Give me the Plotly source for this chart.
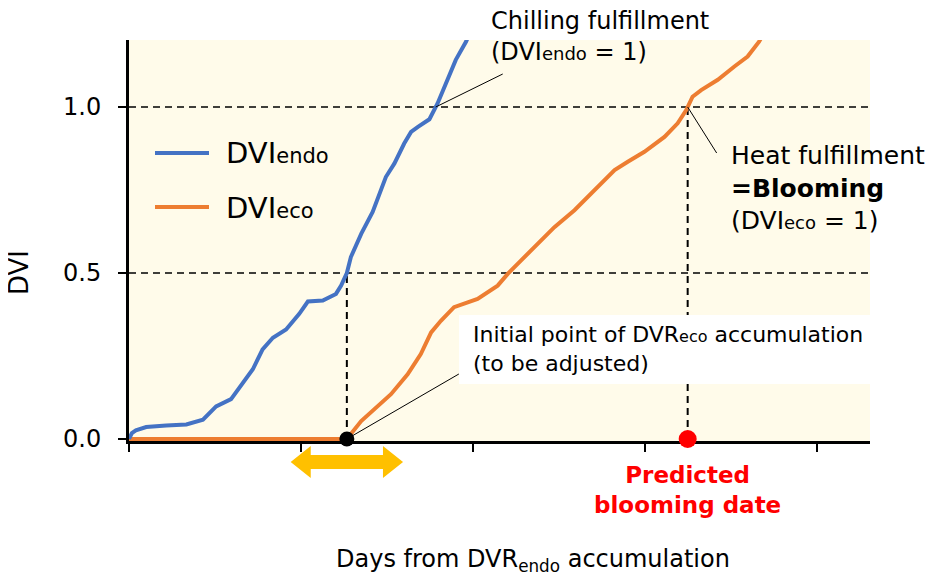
import numpy as np
import plotly.graph_objects as go


# =====================================================
# DATA
# =====================================================

# DVI_endo : chilling accumulation
days_endo = [0, 0.5, 1.2, 3.0, 6.5, 10.0, 12.9, 15.2, 17.8, 19.5, 21.6, 23.3,
             25.1, 27.4, 29.7, 31.2, 33.8, 36.1, 37.0, 38.0, 38.7, 40.5, 42.5,
             44.8, 46.3, 48.0, 49.2, 50.4, 52.4, 53.8, 55.3, 57.0, 58.8, 59.7]
dvi_endo = [0.0, 0.018, 0.026, 0.036, 0.041, 0.044, 0.058, 0.098, 0.120, 0.160,
            0.210, 0.270, 0.305, 0.330, 0.377, 0.414, 0.417, 0.437, 0.462, 0.500,
            0.548, 0.618, 0.684, 0.789, 0.830, 0.890, 0.925, 0.940, 0.963, 1.010,
            1.072, 1.142, 1.197, 1.233]

# DVI_eco : heat accumulation (starts when DVI_endo reaches 0.5)
days_eco = [0, 38.0, 40.5, 43.4, 45.7, 48.6, 50.9, 52.7, 54.4, 56.7, 60.8, 64.3,
            66.1, 68.4, 70.7, 74.2, 77.7, 81.2, 84.7, 87.0, 89.9, 93.4, 95.7,
            97.2, 98.3, 99.8, 102.7, 105.6, 107.9, 109.9, 111.1]
dvi_eco = [0.0, 0.0, 0.054, 0.100, 0.135, 0.195, 0.256, 0.321, 0.356, 0.397,
           0.422, 0.462, 0.498, 0.538, 0.578, 0.638, 0.689, 0.749, 0.810, 0.835,
           0.865, 0.910, 0.951, 0.991, 1.031, 1.051, 1.082, 1.122, 1.152, 1.197,
           1.233]

eco_start_day = 38.0
threshold_levels = [0.5, 1.0]

x_tick_days = [0, 30, 60, 90, 120]
y_tick_vals = [0.0, 0.5, 1.0]
y_tick_text = ["0.0", "0.5", "1.0"]

chill_day = float(np.interp(1.0, dvi_endo, days_endo))
bloom_day = float(np.interp(1.0, dvi_eco[1:], days_eco[1:]))


# =====================================================
# STYLE
# =====================================================

BLUE = "#4472C4"
ORANGE = "#ED7D31"
GOLD = "#FFC000"
RED = "#FF0000"
CREAM = "#FFFBEA"
FONT = "DejaVu Sans"
DASH = "7px,5px"

# page body adds an 8px margin, so the figure is shrunk by that much
OFF = 8
W, H = 933 - OFF, 579 - OFF

# plot area in picture pixels
L, R, T, B = 129, 870, 40, 441
PX_PER_DAY = 5.733
PX_PER_DVI = 332


def px_x(px):
    return (px - L) / (R - L)


def px_y(py):
    return (B - py) / (B - T)


def small(text, size):
    return f'<span style="font-size:{size}px">{text}</span>'


# =====================================================
# FIGURE
# =====================================================

fig = go.Figure()

# guide lines down to the axis
fig.add_trace(go.Scatter(
    x=[eco_start_day, eco_start_day], y=[0, 0.5],
    mode="lines", line=dict(color="black", width=2, dash=DASH),
    hoverinfo="skip"
))
fig.add_trace(go.Scatter(
    x=[bloom_day, bloom_day], y=[0, 1.0],
    mode="lines", line=dict(color="black", width=2, dash=DASH),
    hoverinfo="skip"
))

fig.add_trace(go.Scatter(
    x=days_eco, y=dvi_eco, mode="lines", name="DVIeco",
    line=dict(color=ORANGE, width=4)
))
fig.add_trace(go.Scatter(
    x=days_endo, y=dvi_endo, mode="lines", name="DVIendo",
    line=dict(color=BLUE, width=4)
))

# start point and blooming point
fig.add_trace(go.Scatter(
    x=[eco_start_day], y=[0], mode="markers",
    marker=dict(color="black", size=15), cliponaxis=False
))
fig.add_trace(go.Scatter(
    x=[bloom_day], y=[0], mode="markers",
    marker=dict(color=RED, size=18), cliponaxis=False
))

shapes = []

for level in threshold_levels:
    shapes.append(dict(
        type="line", xref="paper", yref="y", x0=0, x1=1, y0=level, y1=level,
        line=dict(color="black", width=1.5, dash=DASH), layer="below"
    ))

# white box behind the "initial point" note
shapes.append(dict(
    type="rect", xref="paper", yref="paper",
    x0=px_x(459), x1=1.0, y0=px_y(384), y1=px_y(315),
    fillcolor="white", line=dict(width=0), layer="above"
))


def leader(x, y, dx_px, dy_px):
    shapes.append(dict(
        type="line", xref="x", yref="y",
        x0=x, y0=y,
        x1=x + dx_px / PX_PER_DAY, y1=y - dy_px / PX_PER_DVI,
        line=dict(color="black", width=1)
    ))


leader(chill_day, 1.0, 67, -33)
leader(bloom_day, 1.0, 29, 46)
leader(eco_start_day, 0, 112, -65)

# legend lines
shapes.append(dict(
    type="line", xref="paper", yref="paper",
    x0=px_x(155), x1=px_x(209), y0=px_y(153), y1=px_y(153),
    line=dict(color=BLUE, width=4)
))
shapes.append(dict(
    type="line", xref="paper", yref="paper",
    x0=px_x(155), x1=px_x(209), y0=px_y(207), y1=px_y(207),
    line=dict(color=ORANGE, width=4)
))

# yellow double arrow under the start point
half = 9.8
head = 3.5
yc = px_y(462)
s = 7 / (B - T)
hh = 16 / (B - T)
x0, x1 = eco_start_day - half, eco_start_day + half
path = (
    f"M {x0},{yc} L {x0 + head},{yc + hh} L {x0 + head},{yc + s} "
    f"L {x1 - head},{yc + s} L {x1 - head},{yc + hh} L {x1},{yc} "
    f"L {x1 - head},{yc - hh} L {x1 - head},{yc - s} L {x0 + head},{yc - s} "
    f"L {x0 + head},{yc - hh} Z"
)
shapes.append(dict(
    type="path", xref="x", yref="paper", path=path,
    fillcolor=GOLD, line=dict(width=0)
))

annotations = []


def note(text, x, y, size, xref="paper", xanchor="left", yanchor="middle",
         color="black", align="left", angle=0):
    annotations.append(dict(
        text=text, x=x, y=y, xref=xref, yref="paper",
        xanchor=xanchor, yanchor=yanchor, align=align, showarrow=False,
        textangle=angle, font=dict(family=FONT, size=size, color=color)
    ))


note("DVI" + small("endo", 21), px_x(224), px_y(153), 29)
note("DVI" + small("eco", 21), px_x(224), px_y(208), 29)

note("Chilling fulfillment<br>(DVI" + small("endo", 18) + " = 1)",
     px_x(489), px_y(37), 24)
note("Heat fulfillment<br><b>=Blooming</b><br>(DVI" + small("eco", 18) + " = 1)",
     px_x(729), px_y(188), 25)
note("Initial point of DVR" + small("eco", 16) + " accumulation<br>(to be adjusted)",
     px_x(471), px_y(349), 22)

note("<b>Predicted<br>blooming date</b>", bloom_day, px_y(490), 23,
     xref="x", xanchor="center", color=RED, align="center")

note("Days from DVR<sub>endo</sub> accumulation", px_x(533), px_y(560), 24,
     xanchor="center", align="center")
note("DVI", px_x(19), px_y(272), 26, xanchor="center", angle=-90)

fig.update_layout(
    width=W, height=H,
    margin=dict(l=L - OFF, r=W - (R - OFF), t=T - OFF, b=H - (B - OFF)),
    paper_bgcolor="white",
    plot_bgcolor=CREAM,
    showlegend=False,
    font=dict(family=FONT, size=24, color="black"),
    shapes=shapes,
    annotations=annotations
)

fig.update_xaxes(
    range=[0, (R - L) / PX_PER_DAY],
    tickvals=x_tick_days, showticklabels=False,
    ticks="outside", ticklen=8, tickwidth=2, tickcolor="black",
    showline=True, linecolor="black", linewidth=3,
    showgrid=False, zeroline=False, layer="below traces"
)

fig.update_yaxes(
    range=[-2 / PX_PER_DVI, (439 - T) / PX_PER_DVI],
    tickvals=y_tick_vals, ticktext=y_tick_text,
    ticks="outside", ticklen=8, tickwidth=2, tickcolor="black",
    ticklabelstandoff=12,
    tickfont=dict(family=FONT, size=24, color="black"),
    showline=True, linecolor="black", linewidth=3,
    showgrid=False, zeroline=False, layer="below traces"
)

fig.write_html("out.html")
